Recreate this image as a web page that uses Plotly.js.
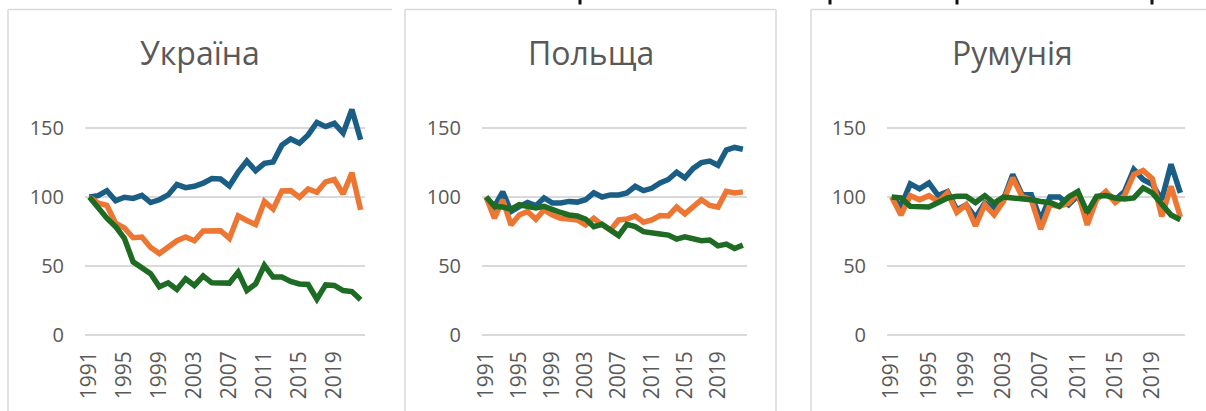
<!DOCTYPE html>
<html>
<head>
<meta charset="utf-8">
<script src="https://cdn.plot.ly/plotly-3.0.1.min.js"></script>
<style>html,body{margin:0;padding:0;background:#fff;}#chart{width:1206px;height:411px;}</style>
</head>
<body>
<div id="chart"></div>
<script>
// ---- data ----
const years = [1991,1992,1993,1994,1995,1996,1997,1998,1999,2000,2001,2002,2003,2004,2005,2006,2007,2008,2009,2010,2011,2012,2013,2014,2015,2016,2017,2018,2019,2020,2021,2022];
const yearTicks = [1991,1995,1999,2003,2007,2011,2015,2019];
const valueTicks = [0,50,100,150];
const panelTitles = ["Україна","Польща","Румунія"];
const seriesNames = ["Серія 1","Серія 2","Серія 3"];

const ukraineBlue   = [100,101,104.6,97.3,99.8,99,101.2,96,98,101.5,109,106.8,107.8,110,113.4,113,108,118,126,119,124.4,125.4,137.6,142,139,145,154,151,153.4,146.3,163.4,141.5];
const ukraineOrange = [100,95.6,93.9,81,77.6,70.5,71,63.4,59,63.9,68.3,71,68.3,75.4,75.4,75.6,70,86.3,83,80,96.8,91.2,104.4,104.6,99.8,105.8,103.4,111,112.7,102.2,117.6,90.7];
const ukraineGreen  = [100,92,84.6,78.5,70,53,49,44.4,35,37.8,33,40.7,35.9,42.7,37.8,37.8,37.6,45.6,32.2,37,50.5,42,42,38.8,37,36.6,26,36.3,35.9,32.2,31.5,25.6];

const polandBlue   = [100,93,103.7,89.5,93,96,93.7,99.3,95.6,95.6,96.8,96.3,98,103,100,101.5,101.5,103,107.8,104.6,106.3,110.2,112.7,118,113.9,120.7,124.9,126,123,134,135.9,134.6];
const polandOrange = [100,84.6,98,79.8,87,89.5,83.9,90.7,87,84.6,84,83.4,79.8,84.6,79.8,76,83.4,84,86.3,81.7,83.4,86.6,86.3,92.7,87.8,93.2,98,93.9,92.7,104.1,103,103.7];
const polandGreen  = [100,93.2,92.7,91.2,94.4,93.2,92,93.2,90.7,88.8,87,86.3,84,78.5,80.2,76.6,72,80.2,78.5,74.9,73.7,73.2,72.4,69.5,71.2,69.5,68.3,68.8,64.6,65.9,62.7,65.1];

const romaniaBlue   = [100,93.2,109.5,105.9,110.2,101,104,90.7,94.4,85,95.6,91.2,98,116.3,101.7,101.7,83.4,100,100,94.4,101,85.9,99.3,103,98,104,120,112.7,109,98,123.7,103];
const romaniaOrange = [100,87,101,98,101,96.8,103,88.8,94.4,79,94.4,87,96.8,113.9,100.5,98,76.6,94.4,93.2,95.6,103,79.8,98,104,96,101,116.3,119.3,113.2,85.9,107.8,85.5];
const romaniaGreen  = [100,99.3,93.2,92.7,92.7,96,99.3,100.5,100.5,96,101,95.6,100,99.3,99,98,96.8,96,93.2,100,104,88.8,100.5,101,99.3,98.5,99.3,106.6,103,94.4,87,83.5];

const panels = [
  {title: panelTitles[0], series: [ukraineBlue, ukraineOrange, ukraineGreen]},
  {title: panelTitles[1], series: [polandBlue, polandOrange, polandGreen]},
  {title: panelTitles[2], series: [romaniaBlue, romaniaOrange, romaniaGreen]}
];

// ---- styling / geometry ----
const W = 1206, H = 411;
const colors = ["#1B5E85", "#ED7633", "#1E6B23"];
const plotX = [[85,365],[482,747],[887,1185]];
const titleX = [200, 591, 1012];
const plotTop = 100.4, plotBottom = 335;
const px = x => x / W;
const py = y => 1 - y / H;
const textColor = "#595959";
const gridColor = "#D9D9D9";
const font = "Open Sans, Noto Sans, sans-serif";

const traces = [];
const layout = {
  width: W, height: H,
  margin: {l:0, r:0, t:0, b:0},
  paper_bgcolor: "#fff", plot_bgcolor: "#fff",
  showlegend: false,
  font: {family: font, color: textColor},
  annotations: [], shapes: []
};

panels.forEach((p, i) => {
  const n = i === 0 ? "" : String(i + 1);
  p.series.forEach((vals, s) => {
    traces.push({
      x: years, y: vals, type: "scatter", mode: "lines",
      name: seriesNames[s],
      line: {color: colors[s], width: 5.5, shape: "linear"},
      xaxis: "x" + n, yaxis: "y" + n, hoverinfo: "x+y"
    });
  });
  layout["xaxis" + n] = {
    domain: [px(plotX[i][0]), px(plotX[i][1])],
    anchor: "y" + n,
    range: [1990.5, 2022.5],
    tickmode: "array", tickvals: yearTicks, ticktext: yearTicks.map(String),
    tickangle: -90, ticks: "", showgrid: false, zeroline: false, showline: false,
    tickfont: {size: 21, color: textColor, family: font},
    ticklabelstandoff: 11, fixedrange: true
  };
  layout["yaxis" + n] = {
    domain: [py(plotBottom), py(plotTop)],
    anchor: "x" + n,
    range: [0, 170],
    tickmode: "array", tickvals: valueTicks, ticktext: valueTicks.map(String),
    ticks: "", showgrid: true, gridcolor: gridColor, gridwidth: 1.5,
    zeroline: true, zerolinecolor: gridColor, zerolinewidth: 1.5, showline: false,
    tickfont: {size: 20, color: textColor, family: font},
    ticklabelstandoff: 20, fixedrange: true
  };
  layout.annotations.push({
    text: p.title, xref: "paper", yref: "paper",
    x: px(titleX[i]), y: py(53), xanchor: "center", yanchor: "middle",
    showarrow: false, font: {size: 32, color: textColor, family: font}
  });
});

// panel borders
const borderLine = {color: "#D9D9D9", width: 1.5};
const seg = (x0,y0,x1,y1) => ({type:"line", xref:"paper", yref:"paper", x0:px(x0), y0:py(y0), x1:px(x1), y1:py(y1), line: borderLine, layer:"below"});
layout.shapes.push(seg(8,9.5,392,9.5), seg(8,9.5,8,411));
layout.shapes.push(seg(405,9.5,776,9.5), seg(405,9.5,405,411), seg(776,9.5,776,411));
layout.shapes.push(seg(811,9.5,1206,9.5), seg(811,9.5,811,411));
// cut-off strokes of text above the panels
[580, 830, 957, 1152].forEach(x => {
  layout.shapes.push({type:"rect", xref:"paper", yref:"paper", x0:px(x-1.5), x1:px(x+1.5), y0:py(4.5), y1:py(0), fillcolor:"#111", line:{width:0}});
});

Plotly.newPlot("chart", traces, layout, {displayModeBar: false, staticPlot: true});
</script>
</body>
</html>
